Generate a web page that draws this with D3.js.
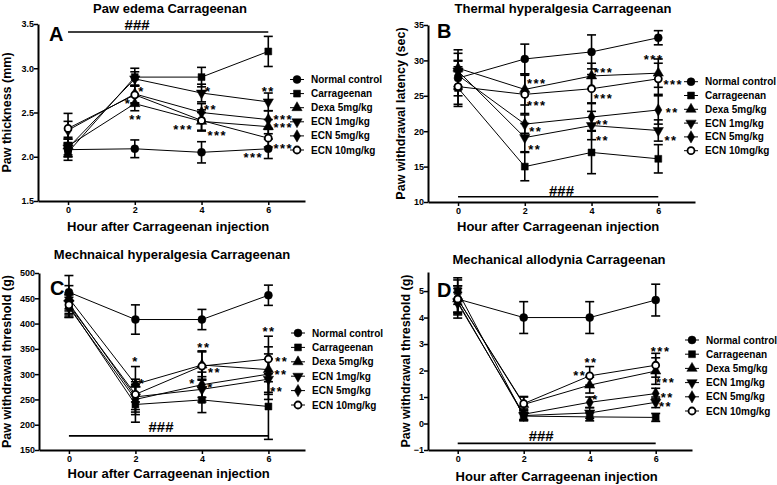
<!DOCTYPE html>
<html>
<head>
<meta charset="utf-8">
<script src="https://cdn.jsdelivr.net/npm/d3@7"></script>
<style>
  body { margin: 0; background: #fff; }
  svg { font-family: "Liberation Sans", Arial, sans-serif; font-weight: bold; }
</style>
</head>
<body>
<script>
// Shared categories
const hours = [0, 2, 4, 6];
const groups = ["Normal control", "Carrageenan", "Dexa 5mg/kg", "ECN 1mg/kg", "ECN 5mg/kg", "ECN 10mg/kg"];

// Panel A - paw edema (mm), rows follow `groups`
const edemaMean = [
  [2.08, 2.09, 2.05, 2.09],
  [2.05, 2.90, 2.90, 3.19],
  [2.12, 2.60, 2.40, 2.34],
  [2.10, 2.88, 2.72, 2.62],
  [2.30, 2.71, 2.50, 2.42],
  [2.32, 2.70, 2.41, 2.21]
];
const edemaErr = [
  [0.08, 0.10, 0.12, 0.11],
  [0.09, 0.10, 0.11, 0.17],
  [0.10, 0.08, 0.10, 0.08],
  [0.10, 0.08, 0.10, 0.10],
  [0.10, 0.10, 0.10, 0.10],
  [0.17, 0.10, 0.12, 0.10]
];
const edemaStars = [
  [2.2, 2.77, "*"], [1.8, 2.63, "*"], [2.03, 2.45, "**"],
  [4.2, 2.77, "*"], [4.27, 2.57, "**"], [3.45, 2.34, "***"], [4.47, 2.27, "***"],
  [6.0, 2.77, "**"], [6.45, 2.46, "***"], [6.45, 2.36, "***"], [6.45, 2.13, "***"], [5.55, 2.03, "***"]
];
const edemaHash = [3.41, 2.07, 3.49]; // line value, text hour, text value

// Panel B - thermal hyperalgesia (sec)
const thermalMean = [
  [27.5, 30.2, 31.2, 33.2],
  [26.1, 15.0, 17.0, 16.1],
  [28.9, 25.9, 27.8, 28.2],
  [28.5, 19.1, 20.8, 20.1],
  [27.9, 21.0, 22.0, 23.0],
  [26.3, 25.2, 26.0, 27.4]
];
const thermalErr = [
  [2.5, 2.1, 2.4, 1.0],
  [2.3, 2.0, 3.0, 2.0],
  [2.6, 2.2, 1.8, 2.0],
  [2.5, 2.0, 2.0, 1.5],
  [2.0, 1.3, 1.9, 2.0],
  [2.8, 2.7, 2.0, 2.2]
];
const thermalStars = [
  [2.36, 27.1, "***"], [2.36, 24.0, "***"], [2.33, 20.4, "**"], [2.3, 17.8, "**"],
  [4.36, 28.7, "***"], [4.36, 25.1, "***"], [4.33, 21.3, "**"], [4.33, 19.1, "**"],
  [5.86, 30.5, "***"], [6.45, 27.0, "***"], [6.42, 23.0, "**"], [6.38, 19.1, "**"]
];
const thermalHash = [10.75, 3.1, 11.5];

// Panel C - mechanical hyperalgesia (g)
const mechMean = [
  [462, 408, 408, 456],
  [435, 240, 249, 236],
  [450, 280, 318, 309],
  [440, 255, 270, 290],
  [432, 250, 279, 300],
  [437, 260, 316, 330]
];
const mechErr = [
  [33, 29, 20, 20],
  [22, 35, 25, 65],
  [25, 35, 28, 45],
  [20, 30, 25, 40],
  [20, 30, 25, 40],
  [20, 30, 28, 45]
];
const mechStars = [
  [2.0, 331, "*"], [2.2, 288, "*"],
  [4.06, 358, "**"], [4.38, 310, "**"], [3.72, 288, "*"], [4.26, 280, "*"],
  [6.02, 391, "**"], [6.4, 331, "**"], [6.38, 305, "**"], [6.25, 272, "**"]
];
const mechHash = [178, 2.77, 196];

// Panel D - mechanical allodynia (g)
const alloMean = [
  [4.70, 4.00, 4.00, 4.66],
  [5.00, 0.28, 0.25, 0.23],
  [4.70, 0.72, 1.45, 1.98],
  [4.60, 0.30, 0.40, 0.80],
  [4.55, 0.35, 0.80, 1.13],
  [4.70, 0.75, 1.80, 2.20]
];
const alloErr = [
  [0.72, 0.60, 0.60, 0.60],
  [0.50, 0.15, 0.15, 0.15],
  [0.50, 0.30, 0.30, 0.50],
  [0.50, 0.20, 0.20, 0.20],
  [0.40, 0.20, 0.20, 0.20],
  [0.50, 0.25, 0.35, 0.45]
];
const alloStars = [
  [4.04, 2.4, "**"], [3.7, 1.92, "**"], [4.18, 1.01, "*"],
  [6.15, 2.84, "***"], [6.3, 1.67, "***"], [6.35, 1.1, "**"], [6.3, 0.76, "**"]
];
const alloHash = [-0.75, 2.53, -0.47];

const xTitle = "Hour after Carrageenan injection";

const panels = [
  { letter: "A", title: "Paw edema Carrageenan", ytitle: "Paw thickness (mm)",
    mean: edemaMean, err: edemaErr, stars: edemaStars, hash: edemaHash,
    yDomain: [1.5, 3.5], yTicks: [1.5, 2, 2.5, 3, 3.5], fmt: ".1f",
    left: 38, right: 305, top: 24, bottom: 201,
    titleX: 170, titleY: 13, letterX: 49, letterY: 41, xTitleY: 231, yTitleX: 11,
    legX: 297, legY: 79.5, legStep: 14.1 },
  { letter: "B", title: "Thermal hyperalgesia Carrageenan", ytitle: "Paw withdrawal latency (sec)",
    mean: thermalMean, err: thermalErr, stars: thermalStars, hash: thermalHash,
    yDomain: [10, 35], yTicks: [10, 15, 20, 25, 30, 35], fmt: "d",
    left: 428, right: 695, top: 25, bottom: 202,
    titleX: 563, titleY: 13, letterX: 437, letterY: 38, xTitleY: 231, yTitleX: 404.5,
    legX: 691, legY: 81.7, legStep: 13.8 },
  { letter: "C", title: "Mechnaical hyperalgesia Carrageenan", ytitle: "Paw withdrawal threshold (g)",
    mean: mechMean, err: mechErr, stars: mechStars, hash: mechHash,
    yDomain: [150, 500], yTicks: [150, 200, 250, 300, 350, 400, 450, 500], fmt: "d",
    left: 39, right: 305, top: 273, bottom: 450,
    titleX: 172, titleY: 259, letterX: 50, letterY: 295, xTitleY: 478, yTitleX: 11,
    legX: 298, legY: 333, legStep: 14.4 },
  { letter: "D", title: "Mechanical allodynia Carrageenan", ytitle: "Paw withdrawal threshold (g)",
    mean: alloMean, err: alloErr, stars: alloStars, hash: alloHash,
    yDomain: [-1, 5.72], yTicks: [-1, 0, 1, 2, 3, 4, 5], fmt: "d",
    left: 428, right: 692, top: 272, bottom: 450,
    titleX: 559, titleY: 264, letterX: 437, letterY: 297, xTitleY: 481, yTitleX: 410,
    legX: 692, legY: 340, legStep: 14.2 }
];

// Marker per group
const markers = [
  { type: d3.symbolCircle, size: 50, rot: 0, open: false },
  { type: d3.symbolSquare, size: 48, rot: 0, open: false },
  { type: d3.symbolTriangle, size: 46, rot: 0, open: false },
  { type: d3.symbolTriangle, size: 46, rot: 180, open: false },
  { type: d3.symbolDiamond, size: 44, rot: 0, open: false },
  { type: d3.symbolCircle, size: 38, rot: 0, open: true }
];

const svg = d3.select("body").append("svg")
  .attr("width", 777)
  .attr("height", 485);

function drawMarker(g, i, cx, cy) {
  const m = markers[i];
  g.append("path")
    .attr("d", d3.symbol(m.type, m.size)())
    .attr("transform", `translate(${cx},${cy}) rotate(${m.rot})`)
    .attr("fill", m.open ? "#fff" : "#000")
    .attr("stroke", "#000")
    .attr("stroke-width", m.open ? 1.8 : 0.5);
}

function drawPanel(p) {
  const g = svg.append("g");
  const x = d3.scaleLinear([-0.9, 7.1], [p.left, p.right]);
  const y = d3.scaleLinear(p.yDomain, [p.bottom, p.top]);

  // axes
  const ya = g.append("g")
    .attr("transform", `translate(${p.left},0)`)
    .call(d3.axisLeft(y).tickValues(p.yTicks).tickSize(4).tickSizeOuter(0).tickFormat(d3.format(p.fmt)));
  const xa = g.append("g")
    .attr("transform", `translate(0,${p.bottom})`)
    .call(d3.axisBottom(x).tickValues(hours).tickSize(4).tickSizeOuter(0));
  [ya, xa].forEach((a) => {
    a.select(".domain").attr("stroke-width", 2);
    a.selectAll(".tick line").attr("stroke-width", 1.5);
    a.selectAll("text").attr("font-size", 9).attr("font-weight", "bold").attr("fill", "#000")
      .attr("font-family", "Liberation Sans, Arial, sans-serif");
  });
  ya.selectAll("text").attr("x", -4);
  xa.selectAll("text").attr("y", 6);

  // titles
  g.append("text").attr("x", p.titleX).attr("y", p.titleY)
    .attr("text-anchor", "middle").attr("font-size", 13).text(p.title);
  g.append("text").attr("x", (x(0) + x(6)) / 2).attr("y", p.xTitleY)
    .attr("text-anchor", "middle").attr("font-size", 13).text(xTitle);
  g.append("text")
    .attr("transform", `translate(${p.yTitleX},${(p.top + p.bottom) / 2}) rotate(-90)`)
    .attr("text-anchor", "middle").attr("font-size", 12.5).text(p.ytitle);
  g.append("text").attr("x", p.letterX).attr("y", p.letterY)
    .attr("font-size", 20).text(p.letter);

  // ### significance line
  g.append("line")
    .attr("x1", x(0)).attr("x2", x(6))
    .attr("y1", y(p.hash[0])).attr("y2", y(p.hash[0]))
    .attr("stroke", "#000").attr("stroke-width", 1.6);
  g.append("text").attr("x", x(p.hash[1])).attr("y", y(p.hash[2]) + 5)
    .attr("text-anchor", "middle").attr("font-size", 15).text("###");

  // connecting lines
  const line = d3.line().x((d, j) => x(hours[j])).y((d) => y(d));
  p.mean.forEach((row) => {
    g.append("path").attr("d", line(row))
      .attr("fill", "none").attr("stroke", "#000").attr("stroke-width", 1);
  });

  // error bars
  p.mean.forEach((row, i) => {
    row.forEach((m, j) => {
      const e = p.err[i][j];
      const cx = x(hours[j]);
      g.append("line").attr("x1", cx).attr("x2", cx)
        .attr("y1", y(m - e)).attr("y2", y(m + e))
        .attr("stroke", "#000").attr("stroke-width", 1.6);
      [m - e, m + e].forEach((v) => {
        g.append("line").attr("x1", cx - 4.5).attr("x2", cx + 4.5)
          .attr("y1", y(v)).attr("y2", y(v))
          .attr("stroke", "#000").attr("stroke-width", 1.6);
      });
    });
  });

  // markers
  p.mean.forEach((row, i) => {
    row.forEach((m, j) => drawMarker(g, i, x(hours[j]), y(m)));
  });

  // significance stars
  p.stars.forEach(([h, v, s]) => {
    g.append("text").attr("x", x(h)).attr("y", y(v) + 7.5)
      .attr("text-anchor", "middle").attr("font-size", 13)
      .attr("letter-spacing", 1.5).text(s);
  });

  // legend
  groups.forEach((name, i) => {
    const ly = p.legY + i * p.legStep;
    g.append("line").attr("x1", p.legX - 7).attr("x2", p.legX + 7)
      .attr("y1", ly).attr("y2", ly).attr("stroke", "#000").attr("stroke-width", 1);
    drawMarker(g, i, p.legX, ly);
    g.append("text").attr("x", p.legX + 14).attr("y", ly + 3.5)
      .attr("font-size", 10).text(name);
  });
}

panels.forEach(drawPanel);
</script>
</body>
</html>
